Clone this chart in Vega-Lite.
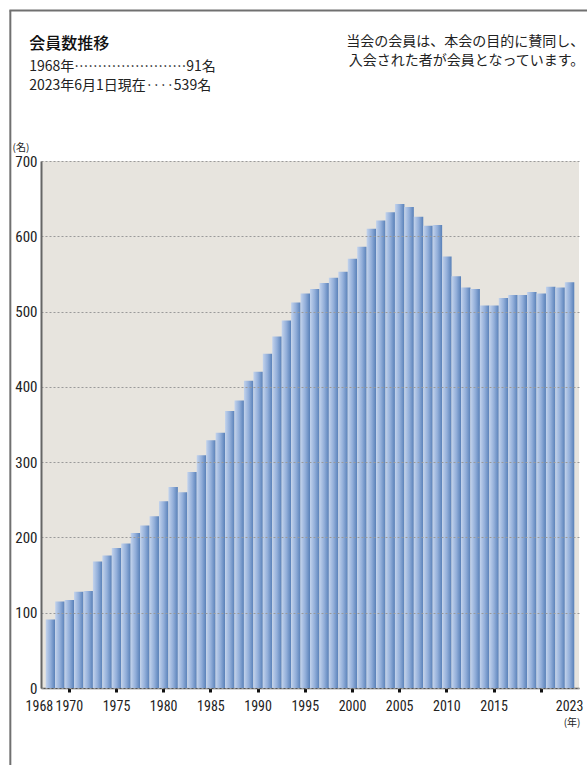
{
  "$schema": "https://vega.github.io/schema/vega-lite/v6.json",
  "autosize": {"type": "none"},
  "padding": {"left": 41, "top": 161, "right": 8, "bottom": 77},
  "width": 538,
  "height": 527,
  "background": "white",
  "config": {
    "view": {"fill": "#e7e4de", "stroke": null},
    "font": "Liberation Sans, Noto Sans CJK JP"
  },
  "data": {
    "values": [
      {"year": 1968, "members": 91}, {"year": 1969, "members": 115}, {"year": 1970, "members": 117},
      {"year": 1971, "members": 128}, {"year": 1972, "members": 129}, {"year": 1973, "members": 168},
      {"year": 1974, "members": 176}, {"year": 1975, "members": 186}, {"year": 1976, "members": 192},
      {"year": 1977, "members": 206}, {"year": 1978, "members": 216}, {"year": 1979, "members": 228},
      {"year": 1980, "members": 248}, {"year": 1981, "members": 267}, {"year": 1982, "members": 260},
      {"year": 1983, "members": 287}, {"year": 1984, "members": 309}, {"year": 1985, "members": 329},
      {"year": 1986, "members": 339}, {"year": 1987, "members": 368}, {"year": 1988, "members": 382},
      {"year": 1989, "members": 408}, {"year": 1990, "members": 420}, {"year": 1991, "members": 444},
      {"year": 1992, "members": 467}, {"year": 1993, "members": 488}, {"year": 1994, "members": 512},
      {"year": 1995, "members": 524}, {"year": 1996, "members": 530}, {"year": 1997, "members": 538},
      {"year": 1998, "members": 545}, {"year": 1999, "members": 553}, {"year": 2000, "members": 570},
      {"year": 2001, "members": 586}, {"year": 2002, "members": 610}, {"year": 2003, "members": 621},
      {"year": 2004, "members": 632}, {"year": 2005, "members": 643}, {"year": 2006, "members": 639},
      {"year": 2007, "members": 626}, {"year": 2008, "members": 614}, {"year": 2009, "members": 615},
      {"year": 2010, "members": 573}, {"year": 2011, "members": 547}, {"year": 2012, "members": 532},
      {"year": 2013, "members": 530}, {"year": 2014, "members": 508}, {"year": 2015, "members": 508},
      {"year": 2016, "members": 518}, {"year": 2017, "members": 522}, {"year": 2018, "members": 522},
      {"year": 2019, "members": 526}, {"year": 2020, "members": 524}, {"year": 2021, "members": 533},
      {"year": 2022, "members": 532}, {"year": 2023, "members": 539}
    ]
  },
  "layer": [
    {
      "mark": {
        "type": "bar",
        "color": {
          "gradient": "linear",
          "x1": 0, "y1": 0, "x2": 1, "y2": 0,
          "stops": [
            {"offset": 0, "color": "#c3d3ec"},
            {"offset": 0.5, "color": "#93afda"},
            {"offset": 1, "color": "#5880b8"}
          ]
        }
      },
      "encoding": {
        "x": {
          "field": "year",
          "type": "ordinal",
          "scale": {"paddingInner": 0, "paddingOuter": 0.5},
          "axis": {
            "values": [1968, 1970, 1975, 1980, 1985, 1990, 1995, 2000, 2005, 2010, 2015, 2020, 2023],
            "labelExpr": "datum.value == 2020 ? '' : datum.label",
            "labelAngle": 0,
            "labelFont": "Liberation Sans Narrow, Roboto Condensed, Liberation Sans",
            "labelFontSize": 14,
            "labelColor": "#222",
            "labelPadding": 7,
            "labelOffset": {"condition": {"test": "datum.value == 1968", "value": -11}, "value": 0},
            "tickSize": 4,
            "tickWidth": 3,
            "tickColor": {"condition": {"test": "datum.value == 1968 || datum.value == 2023", "value": "transparent"}, "value": "#111"},
            "domainColor": "#555",
            "domainWidth": 1.5,
            "title": "(年)",
            "titleFont": "Noto Sans CJK JP",
            "titleFontSize": 10,
            "titleFontWeight": "normal",
            "titleColor": "#222",
            "titleAlign": "right",
            "titleBaseline": "middle",
            "titleX": 539,
            "titleY": 34,
            "grid": false
          }
        },
        "y": {
          "field": "members",
          "type": "quantitative",
          "scale": {"domain": [0, 700], "nice": false},
          "axis": {
            "values": [0, 100, 200, 300, 400, 500, 600, 700],
            "labelFont": "Liberation Sans Narrow, Roboto Condensed, Liberation Sans",
            "labelFontSize": 15,
            "labelColor": "#222",
            "labelPadding": 4,
            "ticks": false,
            "grid": true,
            "gridColor": "#9a9a9a",
            "gridDash": [2, 2],
            "gridWidth": 1,
            "domainColor": "#666",
            "domainWidth": 2,
            "zindex": 1,
            "title": "(名)",
            "titleFont": "Noto Sans CJK JP",
            "titleFontSize": 10,
            "titleFontWeight": "normal",
            "titleColor": "#222",
            "titleAngle": 0,
            "titleAlign": "left",
            "titleBaseline": "middle",
            "titleX": -29,
            "titleY": -14
          }
        }
      }
    },
    {
      "data": {"values": [{"label": "frame"}]},
      "mark": {"type": "rule", "color": "#707070", "strokeWidth": 2},
      "encoding": {
        "x": {"datum": 1968, "type": "ordinal", "bandPosition": -3.75},
        "y": {"datum": 900, "type": "quantitative"},
        "y2": {"datum": -120}
      }
    },
    {
      "data": {"values": [{"label": "frame"}]},
      "mark": {"type": "rule", "color": "#707070", "strokeWidth": 2},
      "encoding": {
        "x": {"datum": 1968, "type": "ordinal", "bandPosition": -3.85},
        "x2": {"datum": 2023, "bandPosition": 2.5},
        "y": {"datum": 900, "type": "quantitative"}
      }
    },
    {
      "data": {"values": [{"label": "title"}]},
      "mark": {"type": "text", "text": "会員数推移", "align": "left", "baseline": "middle", "dx": -16.5, "font": "Noto Sans CJK JP", "fontSize": 16, "fontWeight": 500, "color": "#111"},
      "encoding": {
        "x": {"datum": 1968, "type": "ordinal", "bandPosition": 0},
        "y": {"datum": 855, "type": "quantitative"}
      }
    },
    {
      "data": {"values": [{"label": "line1"}]},
      "mark": {"type": "text", "text": "1968年……………………91名", "align": "left", "baseline": "middle", "dx": -16.5, "font": "Noto Sans CJK JP", "fontSize": 14, "color": "#222"},
      "encoding": {
        "x": {"datum": 1968, "type": "ordinal", "bandPosition": 0},
        "y": {"datum": 825, "type": "quantitative"}
      }
    },
    {
      "data": {"values": [{"label": "line2"}]},
      "mark": {"type": "text", "text": "2023年6月1日現在‥‥539名", "align": "left", "baseline": "middle", "dx": -16.5, "font": "Noto Sans CJK JP", "fontSize": 14, "color": "#222"},
      "encoding": {
        "x": {"datum": 1968, "type": "ordinal", "bandPosition": 0},
        "y": {"datum": 800, "type": "quantitative"}
      }
    },
    {
      "data": {"values": [{"label": "note1"}]},
      "mark": {"type": "text", "text": "当会の会員は、本会の目的に賛同し、", "align": "right", "baseline": "middle", "dx": 10, "font": "Noto Sans CJK JP", "fontSize": 14, "color": "#222"},
      "encoding": {
        "x": {"datum": 2023, "type": "ordinal", "bandPosition": 1},
        "y": {"datum": 858, "type": "quantitative"}
      }
    },
    {
      "data": {"values": [{"label": "note2"}]},
      "mark": {"type": "text", "text": "入会された者が会員となっています。", "align": "right", "baseline": "middle", "dx": 10, "font": "Noto Sans CJK JP", "fontSize": 14, "color": "#222"},
      "encoding": {
        "x": {"datum": 2023, "type": "ordinal", "bandPosition": 1},
        "y": {"datum": 833, "type": "quantitative"}
      }
    }
  ]
}
